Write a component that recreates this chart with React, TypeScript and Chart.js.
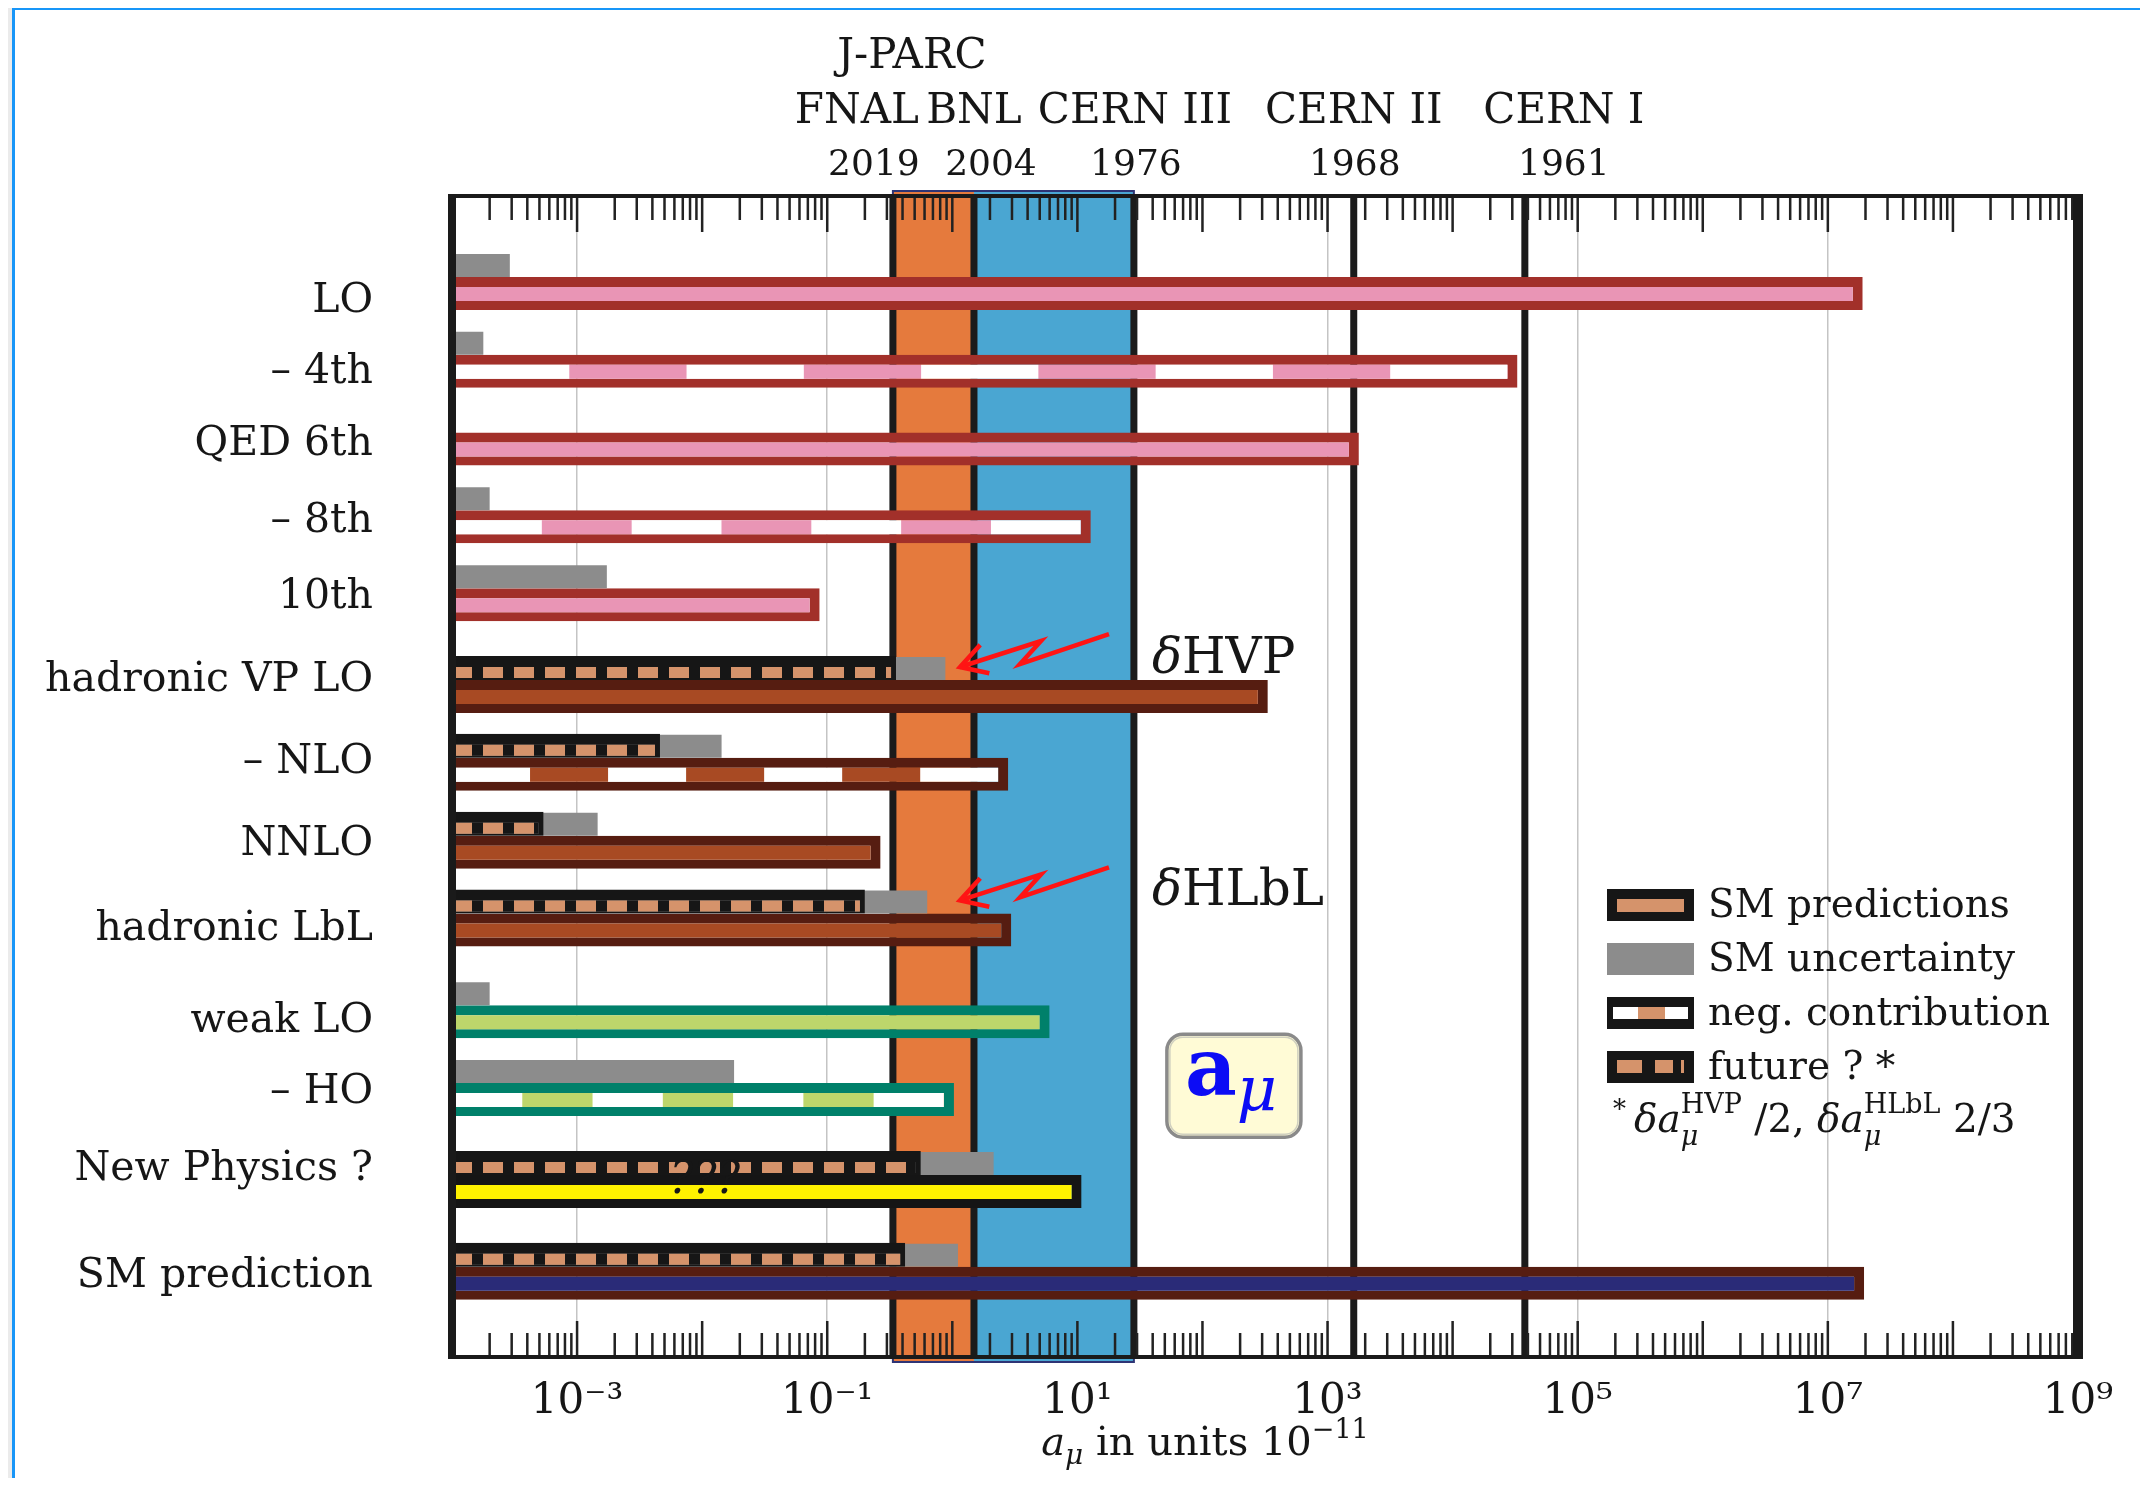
import React, { useEffect, useRef } from 'react';
import { Chart, registerables } from 'chart.js';

Chart.register(...registerables);

// ---------------- data ----------------
const rowLabels = [
  'LO', '– 4th', 'QED 6th', '– 8th', '10th',
  'hadronic VP LO', '– NLO', 'NNLO', 'hadronic LbL',
  'weak LO', '– HO', 'New Physics ?', 'SM prediction',
];
const rowKind = ['qed', 'qed', 'qed', 'qed', 'qed', 'had', 'had', 'had', 'had', 'weak', 'weak', 'np', 'sm'];
const negativeContribution = [false, true, false, true, false, false, true, false, false, false, true, false, false];
// |contribution| in units of 1e-11
const contribution = [1.9e7, 3.3e4, 1780, 12.8, 0.087, 333, 2.8, 0.267, 2.96, 6.0, 1.03, 10.8, 1.95e7];
// present SM uncertainty
const smUncertainty = [2.9e-4, 1.78e-4, null, 2.0e-4, 1.73e-3, 0.88, 0.0143, 1.46e-3, 0.63, 2.0e-4, 0.018, 2.14, 1.11];
// future uncertainty (?)
const futureUncertainty = [null, null, null, null, null, 0.355, 4.6e-3, 5.4e-4, 0.2, null, null, 0.56, 0.42];
// experiments and their precision
const expNames = ['FNAL', 'BNL', 'CERN III', 'CERN II', 'CERN I'];
const expYears = ['2019', '2004', '1976', '1968', '1961'];
const expPrecision = [0.335, 1.49, 28.3, 1620, 37800];
const labeledExponents = [-3, -1, 1, 3, 5, 7, 9];

// ---------------- layout / style ----------------
const X_MIN = 1e-4;
const X_MAX = 1e9;
const sectionBreak = [false, false, false, false, false, true, false, false, false, true, false, true, true];
const SECTION_GAP = 0.18;
const rowPos: number[] = [];
{
  let p = 0;
  sectionBreak.forEach((b, i) => {
    if (i > 0) p += 1 + (b ? SECTION_GAP : 0);
    rowPos.push(p);
  });
}
const labelNudge = [15, 8, 2, 1.5, 0, -9, -5, -1, 7, 7, 0, -15, 0];
const nameShift = [-36, 0, 1, 0, 39];
const yearShift = [-19, 17, 2, 1, 39];

const SERIF = '"DejaVu Serif", "Liberation Serif", serif';
const INK = '#161616';
const TAN = '#d5936b';
const GRAY = '#8c8c8c';
const MAIN_T = 33;
const UNC_T = 23;
const FUT_T = 24;
const MAIN_BORDER = { top: 10, bottom: 9, left: 0, right: 10 };
const FUT_BORDER = { top: 11, bottom: 2, left: 0, right: 5 };

const kindStyle: Record<string, { edge: string; fill: string }> = {
  qed: { edge: '#a2302a', fill: '#e995b5' },
  had: { edge: '#561d11', fill: '#a84a23' },
  weak: { edge: '#00806a', fill: '#bdd66b' },
  np: { edge: '#151515', fill: '#fff200' },
  sm: { edge: '#561d11', fill: '#2a2b78' },
};

const SUP: Record<string, string> = {
  '-': '⁻', '0': '⁰', '1': '¹', '2': '²', '3': '³', '4': '⁴', '5': '⁵', '6': '⁶', '7': '⁷', '8': '⁸', '9': '⁹',
};
const toSup = (n: number) => String(n).split('').map((ch) => SUP[ch] || ch).join('');

function decadeOf(v: number): number | null {
  if (!(v > 0)) return null;
  const e = Math.round(Math.log10(v));
  return Math.abs(v / Math.pow(10, e) - 1) < 1e-6 ? e : null;
}
function isLabeled(v: number) {
  const e = decadeOf(v);
  return e !== null && labeledExponents.includes(e);
}

type Piece = { t: string; size: number; italic?: boolean; bold?: boolean; dy?: number; color?: string; gap?: number; hold?: boolean };
const pieceFont = (p: Piece) => `${p.italic ? 'italic ' : ''}${p.bold ? 'bold ' : ''}${p.size}px ${SERIF}`;

function drawRich(ctx: CanvasRenderingContext2D, x: number, y: number, pieces: Piece[], align: 'left' | 'center' | 'right' = 'left') {
  ctx.save();
  ctx.textAlign = 'left';
  ctx.textBaseline = 'alphabetic';
  const adv: number[] = [];
  let total = 0;
  let held = 0;
  pieces.forEach((p) => {
    ctx.font = pieceFont(p);
    const w = ctx.measureText(p.t).width + (p.gap || 0);
    if (p.hold) {
      held = Math.max(held, w);
      adv.push(0);
    } else {
      const a = Math.max(w, held);
      held = 0;
      adv.push(a);
      total += a;
    }
  });
  let cx = align === 'left' ? x : align === 'center' ? x - total / 2 : x - total;
  pieces.forEach((p, i) => {
    ctx.font = pieceFont(p);
    ctx.fillStyle = p.color || INK;
    ctx.fillText(p.t, cx, y + (p.dy || 0));
    cx += adv[i];
  });
  ctx.restore();
}

function futurePattern(chart: any) {
  const xs = chart.scales.x;
  if (!xs || !(xs.width > 0)) return INK;
  const x0 = xs.getPixelForValue(X_MIN);
  const c = document.createElement('canvas');
  c.width = 31;
  c.height = 8;
  const g = c.getContext('2d')!;
  g.fillStyle = TAN;
  g.fillRect(0, 0, 20, 8);
  g.fillStyle = INK;
  g.fillRect(20, 0, 11, 8);
  const p = chart.ctx.createPattern(c, 'repeat');
  p.setTransform(new DOMMatrix([1, 0, 0, 1, x0, 0]));
  return p;
}

function negPattern(chart: any, i: number) {
  const xs = chart.scales.x;
  const st = kindStyle[rowKind[i]];
  if (!xs || !(xs.width > 0)) return st.fill;
  const x0 = xs.getPixelForValue(X_MIN);
  const L = xs.getPixelForValue(contribution[i]) - MAIN_BORDER.right - x0;
  const whites = Math.max(4, Math.round(L / 220));
  const period = L / (whites - 0.5);
  const c = document.createElement('canvas');
  c.width = Math.ceil(L) + 4;
  c.height = 8;
  const g = c.getContext('2d')!;
  g.fillStyle = st.fill;
  g.fillRect(0, 0, c.width, 8);
  g.fillStyle = '#ffffff';
  for (let k = 0; k < whites; k++) g.fillRect(k * period, 0, period / 2, 8);
  const p = chart.ctx.createPattern(c, 'repeat-y');
  p.setTransform(new DOMMatrix([1, 0, 0, 1, x0, 0]));
  return p;
}

function drawArrow(ctx: CanvasRenderingContext2D, bx: number, ry: number) {
  const pts = [
    [bx + 135, ry - 46],
    [bx + 46, ry - 16],
    [bx + 67, ry - 39],
    [bx - 14, ry - 13],
  ];
  ctx.save();
  ctx.strokeStyle = '#ff1414';
  ctx.lineWidth = 4.5;
  ctx.lineJoin = 'miter';
  ctx.beginPath();
  pts.forEach(([x, y], k) => (k ? ctx.lineTo(x, y) : ctx.moveTo(x, y)));
  ctx.stroke();
  const [tx, ty] = pts[3];
  const [px, py] = pts[2];
  const ang = Math.atan2(py - ty, px - tx);
  ctx.beginPath();
  ctx.moveTo(tx + 30 * Math.cos(ang - 0.52), ty + 30 * Math.sin(ang - 0.52));
  ctx.lineTo(tx, ty);
  ctx.lineTo(tx + 30 * Math.cos(ang + 0.52), ty + 30 * Math.sin(ang + 0.52));
  ctx.stroke();
  ctx.restore();
}

const decorPlugin = {
  id: 'decor',
  beforeDatasetsDraw(chart: any) {
    const { ctx, chartArea } = chart;
    const { top, bottom } = chartArea;
    const xs = chart.scales.x;
    const px = expPrecision.map((v) => xs.getPixelForValue(v));
    ctx.save();
    ctx.fillStyle = '#e57a3d';
    ctx.fillRect(px[0], top - 5, px[1] - px[0], bottom - top + 10);
    ctx.fillStyle = '#4aa6d2';
    ctx.fillRect(px[1], top - 5, px[2] - px[1], bottom - top + 10);
    ctx.strokeStyle = '#2e3475';
    ctx.lineWidth = 2;
    ctx.strokeRect(px[0], top - 5, px[2] - px[0], bottom - top + 10);
    ctx.fillStyle = '#1b1b1b';
    px.forEach((p) => ctx.fillRect(p - 3.5, top, 7, bottom - top));
    ctx.restore();
  },
  afterDatasetsDraw(chart: any) {
    const { ctx, chartArea } = chart;
    const { top, bottom, left, right } = chartArea;
    const xs = chart.scales.x;
    const ys = chart.scales.y;
    const px = expPrecision.map((v) => xs.getPixelForValue(v));
    const rowY = (i: number) => ys.getPixelForValue(rowPos[i]);

    // inward ticks on top and bottom
    ctx.save();
    ctx.strokeStyle = '#222';
    ctx.lineWidth = 2.5;
    xs.ticks.forEach((t: any) => {
      const x = xs.getPixelForValue(t.value);
      if (x < left + 2 || x > right - 2) return;
      const len = decadeOf(t.value) !== null ? 36 : 24;
      ctx.beginPath();
      ctx.moveTo(x, top);
      ctx.lineTo(x, top + len);
      ctx.moveTo(x, bottom);
      ctx.lineTo(x, bottom - len);
      ctx.stroke();
    });
    // frame
    ctx.fillStyle = '#1a1a1a';
    ctx.fillRect(left - 4, top - 2, right - left + 9, 4);
    ctx.fillRect(left - 4, bottom - 2, right - left + 9, 4);
    ctx.fillRect(left - 4, top - 2, 8, bottom - top + 4);
    ctx.fillRect(right - 5, top - 2, 10, bottom - top + 4);
    ctx.restore();

    // annotations
    drawArrow(ctx, px[1], rowY(5));
    drawArrow(ctx, px[1], rowY(8));
    drawRich(ctx, px[2] + 18, rowY(5) - 7, [
      { t: 'δ', size: 50, italic: true },
      { t: 'HVP', size: 50 },
    ]);
    drawRich(ctx, px[2] + 18, rowY(8) - 8, [
      { t: 'δ', size: 50, italic: true },
      { t: 'HLbL', size: 50 },
    ]);
    // ??? on New Physics row
    ctx.save();
    ctx.font = `italic 44px ${SERIF}`;
    ctx.fillStyle = INK;
    ctx.textAlign = 'center';
    ctx.textBaseline = 'alphabetic';
    ctx.fillText('???', xs.getPixelForValue(0.0105), rowY(11) + 18);
    ctx.restore();

    // a_mu box
    const bx = px[2] + 33;
    const by = rowY(9) + 29;
    ctx.save();
    ctx.beginPath();
    ctx.roundRect(bx, by, 134, 103, 16);
    ctx.fillStyle = '#fffbd6';
    ctx.fill();
    ctx.strokeStyle = '#8a8a8a';
    ctx.lineWidth = 3.5;
    ctx.stroke();
    ctx.beginPath();
    ctx.roundRect(bx + 3, by + 3, 128, 97, 13);
    ctx.strokeStyle = '#cfcfbf';
    ctx.lineWidth = 1.5;
    ctx.stroke();
    ctx.restore();
    drawRich(ctx, bx + 18, by + 61, [
      { t: 'a', size: 80, bold: true, color: '#0c0cf5' },
      { t: 'μ', size: 62, italic: true, dy: 15, color: '#0c0cf5' },
    ]);

    // legend
    const lx = right - 471;
    const ly0 = top + 693;
    const step = 54;
    const iw = 87;
    const ih = 32;
    ctx.save();
    ctx.fillStyle = INK;
    ctx.fillRect(lx, ly0, iw, ih);
    ctx.fillStyle = TAN;
    ctx.fillRect(lx + 10, ly0 + 10, iw - 20, ih - 19);
    ctx.fillStyle = GRAY;
    ctx.fillRect(lx, ly0 + step, iw, ih);
    let y = ly0 + 2 * step;
    ctx.fillStyle = INK;
    ctx.fillRect(lx, y, iw, ih);
    ctx.fillStyle = '#ffffff';
    ctx.fillRect(lx + 6, y + 10, iw - 12, 12);
    ctx.fillStyle = TAN;
    ctx.fillRect(lx + 31, y + 10, 27, 12);
    y = ly0 + 3 * step;
    ctx.fillStyle = INK;
    ctx.fillRect(lx, y, iw, ih);
    ctx.fillStyle = TAN;
    ctx.fillRect(lx + 10, y + 9, iw - 20, 13);
    ctx.fillStyle = INK;
    ctx.fillRect(lx + 35, y + 9, 13, 13);
    ctx.fillRect(lx + 66, y + 9, 8, 13);
    ctx.restore();
    const legendText = ['SM predictions', 'SM uncertainty', 'neg. contribution', 'future ? *'];
    legendText.forEach((t, k) => drawRich(ctx, lx + 101, ly0 + k * step + 28, [{ t, size: 39 }]));
    drawRich(ctx, lx + 6, ly0 + 243, [
      { t: '*', size: 26, dy: -14, gap: 8 },
      { t: 'δa', size: 39, italic: true },
      { t: 'μ', size: 27, italic: true, dy: 13, hold: true },
      { t: 'HVP', size: 27, dy: -19 },
      { t: ' /2, ', size: 39 },
      { t: 'δa', size: 39, italic: true },
      { t: 'μ', size: 27, italic: true, dy: 13, hold: true },
      { t: 'HLbL', size: 27, dy: -19 },
      { t: ' 2/3', size: 39 },
    ]);
  },
  afterDraw(chart: any) {
    const { ctx, chartArea } = chart;
    const { top, bottom, left } = chartArea;
    const xs = chart.scales.x;
    const ys = chart.scales.y;
    const px = expPrecision.map((v) => xs.getPixelForValue(v));
    ctx.save();
    ctx.fillStyle = INK;
    ctx.textBaseline = 'alphabetic';
    ctx.textAlign = 'right';
    ctx.font = `41px ${SERIF}`;
    rowLabels.forEach((lab, i) => {
      ctx.fillText(lab, left - 79, ys.getPixelForValue(rowPos[i]) + 20 + labelNudge[i]);
    });
    ctx.textAlign = 'center';
    ctx.font = `42px ${SERIF}`;
    ctx.fillText('J-PARC', px[0] + 19, top - 128);
    expNames.forEach((n, k) => ctx.fillText(n, px[k] + nameShift[k], top - 73));
    ctx.font = `36px ${SERIF}`;
    expYears.forEach((n, k) => ctx.fillText(n, px[k] + yearShift[k], top - 21));
    ctx.restore();
    drawRich(ctx, left + 753, bottom + 98, [
      { t: 'a', size: 40, italic: true },
      { t: 'μ', size: 28, italic: true, dy: 9 },
      { t: ' in units 10', size: 40 },
      { t: '−11', size: 27, dy: -17 },
    ], 'center');
  },
};

export default function App() {
  const ref = useRef<HTMLCanvasElement>(null);

  useEffect(() => {
    const canvas = ref.current;
    if (!canvas) return;

    const uncRows = smUncertainty.map((v, i) => (v == null ? -1 : i)).filter((i) => i >= 0);
    const futRows = futureUncertainty.map((v, i) => (v == null ? -1 : i)).filter((i) => i >= 0);

    const chart = new Chart(canvas, {
      type: 'bar',
      data: {
        datasets: [
          {
            label: 'future ?',
            stack: 'upper',
            data: futRows.map((i) => ({ x: [X_MIN, futureUncertainty[i] as number], y: rowPos[i] })),
            backgroundColor: (c: any) => (c.type === 'data' ? futurePattern(c.chart) : INK),
            borderColor: INK,
            borderWidth: FUT_BORDER,
            borderSkipped: false,
            barThickness: FUT_T,
            inflateAmount: 0,
            order: 0,
          },
          {
            label: 'SM uncertainty',
            stack: 'upper',
            data: uncRows.map((i) => ({ x: [X_MIN, smUncertainty[i] as number], y: rowPos[i] })),
            backgroundColor: GRAY,
            borderWidth: 0,
            barThickness: UNC_T,
            inflateAmount: 0,
            order: 1,
          },
          {
            label: 'SM predictions',
            stack: 'lower',
            data: contribution.map((v, i) => ({ x: [X_MIN, v], y: rowPos[i] })),
            backgroundColor: (c: any) => {
              if (c.type !== 'data') return TAN;
              const i = c.dataIndex;
              return negativeContribution[i] ? negPattern(c.chart, i) : kindStyle[rowKind[i]].fill;
            },
            borderColor: (c: any) => (c.type === 'data' ? kindStyle[rowKind[c.dataIndex]].edge : INK),
            borderWidth: MAIN_BORDER,
            borderSkipped: false,
            barThickness: MAIN_T,
            inflateAmount: 0,
            order: 2,
          },
        ] as any,
      },
      options: {
        animation: false,
        responsive: false,
        indexAxis: 'y',
        layout: { padding: { left: 452, right: 70, top: 196, bottom: 0 } },
        plugins: {
          legend: { display: false },
          tooltip: { enabled: false },
        },
        scales: {
          x: {
            type: 'logarithmic',
            position: 'bottom',
            min: X_MIN,
            max: X_MAX,
            stacked: false,
            offset: false,
            beginAtZero: false,
            afterBuildTicks: (scale: any) => {
              const t: any[] = [];
              for (let e = -4; e <= 9; e++) {
                for (let m = 1; m <= 9; m++) {
                  if (e === 9 && m > 1) break;
                  t.push({ value: m * Math.pow(10, e) });
                }
              }
              scale.ticks = t;
            },
            afterFit: (scale: any) => {
              scale.height = 129;
            },
            grid: {
              drawTicks: false,
              lineWidth: 1.5,
              color: (c: any) => (c.tick && isLabeled(c.tick.value) ? '#c4c4c4' : 'rgba(0,0,0,0)'),
            },
            border: { display: false },
            ticks: {
              autoSkip: false,
              maxRotation: 0,
              minRotation: 0,
              padding: 20,
              color: INK,
              font: { family: SERIF, size: 42 },
              callback: (v: any) => {
                const val = Number(v);
                const e = decadeOf(val);
                return e !== null && labeledExponents.includes(e) ? '10' + toSup(e) : '';
              },
            },
          },
          y: {
            type: 'linear',
            display: false,
            min: -1.04,
            max: 13.88,
            reverse: true,
            offset: false,
            grid: { display: false },
          },
        },
      } as any,
      plugins: [decorPlugin],
    });

    return () => chart.destroy();
  }, []);

  return (
    <div style={{ position: 'relative', width: 2148, height: 1486, margin: -8, background: '#ebebeb', overflow: 'hidden' }}>
      <div
        style={{
          position: 'absolute',
          left: 12,
          top: 7,
          width: 2136,
          height: 1479,
          boxSizing: 'border-box',
          border: '3px solid #1896f8',
          background: '#ffffff',
        }}
      />
      <canvas ref={ref} width={2148} height={1486} style={{ position: 'absolute', left: 0, top: 0, width: 2148, height: 1486 }} />
    </div>
  );
}
